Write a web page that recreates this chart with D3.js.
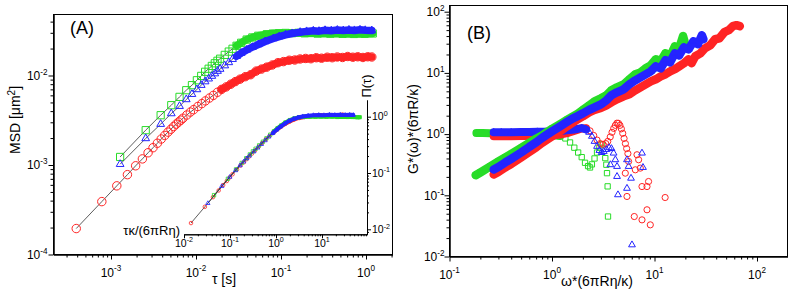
<!DOCTYPE html>
<html>
<head>
<meta charset="utf-8">
<script src="https://cdn.jsdelivr.net/npm/d3@7"></script>
<style>
  body { margin: 0; background: #fff; }
  svg text { font-family: "Liberation Sans", Arial, sans-serif; fill: #000; }
</style>
</head>
<body>
<svg id="chart" width="789" height="294"></svg>
<script>
// ---------------- data, panel A: MSD vs tau ----------------
const msdRed = [[3.9e-4,1.95e-4],[7.8e-4,3.9e-4],[1.17e-3,5.85e-4],[1.56e-3,7.8e-4],[1.95e-3,9.8e-4],[2.34e-3,1.17e-3],
  [2.73e-3,1.37e-3],[3.12e-3,1.56e-3],[3.51e-3,1.75e-3],[3.9e-3,1.95e-3],[4.29e-3,2.14e-3],[4.68e-3,2.33e-3],[5.07e-3,2.51e-3],
  [5.46e-3,2.69e-3],[5.85e-3,2.86e-3],[6.24e-3,3.02e-3],[6.63e-3,3.17e-3],[7.02e-3,3.33e-3],[7.8e-3,3.62e-3],[8.58e-3,3.9e-3],
  [9.36e-3,4.15e-3],[0.0105,4.5e-3],[0.0117,4.85e-3],[0.0129,5.2e-3],[0.0144,5.6e-3],[0.016,6.0e-3],[0.0179,6.5e-3],[0.02,7.0e-3],
  [0.0226,7.45e-3],[0.0257,8.0e-3],[0.029,8.55e-3],[0.033,9.1e-3],[0.038,9.7e-3],[0.044,0.0102],[0.051,0.0112],[0.059,0.0118],
  [0.068,0.0124],[0.079,0.0131],[0.092,0.0139],[0.107,0.0143],[0.125,0.0148],[0.145,0.0149],[0.168,0.0153],[0.195,0.0155],
  [0.225,0.0154],[0.26,0.0158],[0.3,0.0156],[0.35,0.016],[0.4,0.0158],[0.46,0.0161],[0.53,0.0159],[0.61,0.0163],[0.7,0.016],
  [0.8,0.0162],[0.92,0.0159],[1.05,0.0162],[1.17,0.0161]];
const msdGreen = [[1.28e-3,1.23e-3],[2.56e-3,2.45e-3],[3.84e-3,3.6e-3],[5.12e-3,4.66e-3],[6.4e-3,5.77e-3],[7.68e-3,6.85e-3],
  [8.96e-3,7.8e-3],[0.01024,8.85e-3],[0.01152,9.9e-3],[0.0128,0.011],[0.01408,0.0119],[0.01536,0.0128],[0.01664,0.0137],
  [0.0179,0.0146],[0.0192,0.0154],[0.0218,0.017],[0.0243,0.0185],[0.0269,0.0199],[0.03,0.0215],[0.034,0.0232],[0.0395,0.0252],
  [0.046,0.0266],[0.054,0.0278],[0.068,0.0289],[0.08,0.0294],[0.095,0.0297],[0.113,0.0299],[0.135,0.0297],[0.16,0.03],
  [0.19,0.0296],[0.23,0.0298],[0.27,0.0294],[0.32,0.0297],[0.38,0.0293],[0.45,0.0296],[0.53,0.0292],[0.62,0.0295],
  [0.72,0.0291],[0.84,0.0294],[0.97,0.0292],[1.2,0.0295]];
const msdBlue = [[1.28e-3,1.02e-3],[2.56e-3,1.98e-3],[3.84e-3,2.86e-3],[5.12e-3,3.76e-3],[6.4e-3,4.54e-3],[7.68e-3,5.4e-3],
  [8.96e-3,6.18e-3],[0.01024,6.98e-3],[0.01152,7.8e-3],[0.0128,8.55e-3],[0.01408,9.2e-3],[0.01536,9.85e-3],[0.01664,0.0105],
  [0.0179,0.0112],[0.0192,0.0118],[0.0218,0.0129],[0.0243,0.014],[0.0269,0.0152],[0.03,0.0164],[0.034,0.0178],[0.0395,0.0193],
  [0.046,0.0207],[0.054,0.0222],[0.065,0.024],[0.0812,0.0259],[0.095,0.0272],[0.113,0.0285],[0.135,0.0295],[0.168,0.0305],
  [0.2,0.0311],[0.24,0.0316],[0.28,0.0313],[0.33,0.032],[0.39,0.0317],[0.46,0.0322],[0.54,0.0318],[0.63,0.0323],
  [0.73,0.0319],[0.85,0.0324],[0.98,0.032],[1.17,0.0318]];

// inset: Pi(tau) vs tau*kappa/(6 pi R eta)
const piRed = [[0.0142,0.0129],[0.0284,0.0251],[0.0426,0.0372],[0.0568,0.049],[0.071,0.061],[0.0852,0.072],[0.0994,0.084],
  [0.1136,0.095],[0.142,0.116],[0.17,0.136],[0.2,0.155],[0.23,0.176],[0.26,0.196],[0.3,0.221],[0.35,0.252],[0.42,0.294],
  [0.5,0.341],[0.6,0.396],[0.72,0.455],[0.87,0.522],[1.05,0.592],[1.3,0.672],[1.6,0.75],[2.0,0.826],[2.5,0.895],[3.2,0.95],
  [4.2,0.99],[5.5,1.02],[7.2,1.04],[9.5,1.06],[12.5,1.05],[16.5,1.07],[21.5,1.06],[28,1.08],[36,1.06],[43,1.07]];
const piGreen = [[0.045,0.0405],[0.09,0.079],[0.135,0.116],[0.18,0.151],[0.225,0.183],[0.27,0.214],[0.315,0.243],[0.36,0.27],
  [0.43,0.31],[0.52,0.36],[0.62,0.414],[0.75,0.48],[0.9,0.55],[1.08,0.625],[1.3,0.7],[1.6,0.79],[2.0,0.87],[2.5,0.935],
  [3.2,0.98],[4.2,1.0],[5.5,1.01],[7.2,1.0],[9.5,1.01],[12.5,1.0],[16.5,1.01],[21.5,0.99],[28,1.0],[36,0.99],[46,0.99],
  [58,0.98],[66,0.98]];
const piBlue = [[0.033,0.029],[0.066,0.058],[0.099,0.085],[0.132,0.111],[0.165,0.136],[0.198,0.159],[0.231,0.181],[0.264,0.202],
  [0.33,0.24],[0.4,0.28],[0.48,0.324],[0.58,0.378],[0.7,0.44],[0.85,0.51],[1.03,0.585],[1.25,0.665],[1.55,0.755],[1.9,0.835],
  [2.4,0.91],[3.0,0.965],[3.8,1.01],[5.0,1.04],[6.5,1.06],[8.5,1.07],[11,1.06],[14.5,1.08],[19,1.07],[25,1.08],[32,1.07],
  [40,1.08],[48,1.07]];

// ---------------- data, panel B: G* vs omega ----------------
const riseGreen = [[0.18,0.213],[0.2,0.236],[0.25,0.296],[0.3,0.357],[0.35,0.416],[0.4,0.474],[0.5,0.594],[0.6,0.718],
  [0.7,0.84],[0.8,0.95],[0.9,1.09],[1.0,1.22],[1.2,1.46],[1.4,1.71],[1.6,1.95],[1.8,2.18],[2.0,2.49],[2.3,2.95],[2.6,3.43],
  [3.0,3.84],[3.4,4.3],[3.8,5.2],[4.3,5.8],[5.0,6.5],[5.7,7.85],[6.5,9.5],[7.3,10.2],[8.2,11.9],[9.2,13.3],[10.3,16.7],
  [11.5,15.5],[12.8,21],[14.2,18.7],[15.8,27.2],[17.4,25.2],[19.0,40],[19.6,33]];
const riseBlue = [[0.27,0.264],[0.3,0.29],[0.35,0.344],[0.4,0.395],[0.5,0.501],[0.6,0.618],[0.7,0.731],[0.8,0.867],[0.9,0.99],
  [1.0,1.11],[1.2,1.34],[1.4,1.58],[1.6,1.81],[1.8,1.99],[2.0,2.18],[2.3,2.49],[2.6,2.74],[3.0,3.06],[3.4,3.56],[3.8,4.3],
  [4.3,4.81],[5.0,5.39],[5.7,6.5],[6.5,7.56],[7.3,8.47],[8.2,9.48],[9.2,10.6],[10.3,12.8],[11.5,11.9],[12.8,16.1],[14.2,14.9],
  [15.8,20.9],[17.4,19.4],[19.4,26.2],[21.5,24.3],[24,32.9],[26.5,29.4],[29,41.2],[30,35.5]];
const riseRed = [[0.27,0.219],[0.3,0.241],[0.35,0.285],[0.4,0.325],[0.5,0.416],[0.6,0.512],[0.7,0.606],[0.8,0.718],[0.9,0.819],
  [1.0,0.917],[1.2,1.11],[1.4,1.34],[1.6,1.55],[1.8,1.77],[2.0,1.95],[2.3,2.27],[2.6,2.49],[3.0,2.68],[3.4,2.95],[3.8,3.3],
  [4.3,3.7],[5.0,4.14],[5.7,4.47],[6.5,5.19],[7.3,5.81],[8.2,6.5],[9.2,7.28],[10.3,7.86],[11.5,8.8],[12.8,9.5],[14.2,10.6],
  [15.8,11.5],[17.4,12.8],[19.4,14.4],[21.5,16.7],[23,14.4],[25,18.7],[28,20.9],[31,25.2],[35,28.3],[39,35.5],[43,36.8],
  [48,46.2],[53,49.8],[58,58],[63,60.2],[68,58]];

const fallGreen = [[0.183,1.04],[0.21,1.04],[0.25,1.035],[0.3,1.03],[0.36,1.02],[0.43,1.01],[0.52,1.0],[0.62,0.99],[0.75,0.98],
  [0.9,0.97],[1.05,0.96],[1.2,0.93],[1.35,0.85],[1.5,0.73],[1.65,0.6],[1.8,0.5],[1.95,0.42],[2.1,0.34],[2.25,0.3],[2.35,0.285],
  [2.45,0.32],[2.6,0.4],[2.75,0.5],[2.9,0.6],[3.05,0.68]];
const fallGreenLoose = [[3.31,0.405],[3.39,0.316],[3.44,0.23],[3.49,0.14],[3.52,0.045]];
const fallBlue = [[0.27,1.07],[0.32,1.07],[0.4,1.07],[0.5,1.08],[0.6,1.085],[0.72,1.09],[0.86,1.09],[1.0,1.1],[1.2,1.12],
  [1.4,1.15],[1.65,1.19],[1.95,1.25],[2.15,1.19],[2.3,1.07],[2.45,0.92],[2.6,0.76],[2.75,0.63],[2.9,0.54],[3.05,0.5],
  [3.2,0.52],[3.4,0.56],[3.6,0.6],[3.8,0.58]];
const fallBlueLoose = [[3.71,0.316],[3.99,0.489],[4.15,0.381],[4.31,0.296],[4.31,0.203],[4.4,0.102],[5.39,0.381],[5.59,0.296],
  [5.9,0.19],[5.39,0.13],[7.55,0.489],[7.72,0.285],[6.03,0.0155]];
const fallRed = [[0.27,0.92],[0.32,0.92],[0.4,0.925],[0.5,0.93],[0.6,0.93],[0.72,0.935],[0.86,0.94],[1.0,0.95],[1.2,0.98],
  [1.45,1.05],[1.7,1.15],[1.95,1.24],[2.15,1.25],[2.35,1.13],[2.55,0.95],[2.75,0.8],[2.95,0.7],[3.15,0.68],[3.35,0.7],
  [3.5,0.76],[3.7,0.9],[3.85,1.07],[4.0,1.24],[4.15,1.39],[4.3,1.51],[4.45,1.5],[4.6,1.39],[4.75,1.22],[4.9,1.03],
  [5.05,0.85],[5.2,0.7],[5.35,0.58],[5.5,0.48]];
const fallRedLoose = [[5.19,0.23],[5.59,0.357],[6.5,0.261],[6.75,0.46],[7.0,0.381],[7.27,0.278],[8.75,0.168],[8.45,0.139],
  [7.55,0.139],[5.39,0.0957],[12.7,0.092],[8.45,0.058],[6.35,0.045],[7.55,0.0397],[9.1,0.0329]];

const RED = "#ff2424", GREEN = "#28dc28", BLUE = "#2424ff";

const svg = d3.select("#chart");

// log scale fixed by two decades, then stretched to the frame edges
function frameScale(d0, d1, r0, r1, e0, e1) {
  const s = d3.scaleLog().domain([d0, d1]).range([r0, r1]);
  return s.domain([s.invert(e0), s.invert(e1)]).range([e0, e1]);
}

function logTicks(scale) {
  const [a, b] = scale.domain();
  const major = [], minor = [];
  for (let e = Math.floor(Math.log10(a)); e <= Math.ceil(Math.log10(b)); e++) {
    for (let k = 1; k < 10; k++) {
      const v = k * Math.pow(10, e);
      if (v < a * 0.999 || v > b * 1.001) continue;
      (k === 1 ? major : minor).push(v);
    }
  }
  return {major, minor};
}

function drawAxis(scale, orient, pos, fs, big, small, lab) {
  const t = logTicks(scale);
  const gen = orient === "bottom" ? d3.axisBottom : orient === "left" ? d3.axisLeft : d3.axisRight;
  const tr = orient === "bottom" ? `translate(0,${pos})` : `translate(${pos},0)`;
  svg.append("g").attr("transform", tr)
    .call(gen(scale).tickValues(t.minor).tickSize(small).tickSizeOuter(0).tickFormat(""));
  svg.append("g").attr("transform", tr)
    .call(gen(scale).tickValues(t.major).tickSize(big).tickSizeOuter(0).tickFormat(""));
  svg.selectAll(".domain").attr("stroke", "#000");
  t.major.forEach(v => {
    const e = Math.round(Math.log10(v));
    let txt;
    if (orient === "bottom") {
      txt = svg.append("text").attr("x", scale(v)).attr("y", pos + lab).attr("text-anchor", "middle");
    } else if (orient === "left") {
      txt = svg.append("text").attr("x", pos - lab).attr("y", scale(v) + fs * 0.36).attr("text-anchor", "end");
    } else {
      txt = svg.append("text").attr("x", pos + lab).attr("y", scale(v) + fs * 0.36).attr("text-anchor", "start");
    }
    txt.attr("font-size", fs);
    txt.append("tspan").text("10");
    txt.append("tspan").attr("dy", -fs * 0.42).attr("font-size", fs * 0.68).text(String(e));
  });
}

function drawSeries(x, y, data, o) {
  const g = svg.append("g");
  const line = d3.line().x(d => x(d[0])).y(d => y(d[1]));
  if (o.thin) {
    g.append("path").datum(data).attr("d", line)
      .attr("fill", "none").attr("stroke", "#333").attr("stroke-width", 0.8);
  }
  if (o.band) {
    const dense = data.filter(d => d[0] >= o.bandFrom && d[0] <= (o.bandTo || Infinity));
    g.append("path").datum(dense).attr("d", line)
      .attr("fill", "none").attr("stroke", o.color).attr("stroke-width", o.band)
      .attr("stroke-linejoin", "round").attr("stroke-linecap", "round");
  }
  const sym = d3.symbol().type(o.shape).size(o.size);
  g.selectAll(null).data(data).enter().append("path")
    .attr("transform", d => `translate(${x(d[0])},${y(d[1])})`)
    .attr("d", sym)
    .attr("fill", "none")
    .attr("stroke", o.color)
    .attr("stroke-width", o.sw || 1);
}

// ================= panel A =================
const xA = frameScale(1e-3, 1, 111, 366, 53.5, 392.5);
const yA = frameScale(1e-4, 1e-2, 254.5, 75.5, 254.5, 14.5);

svg.append("rect").attr("x", 53.5).attr("y", 14.5).attr("width", 339).attr("height", 240)
  .attr("fill", "none").attr("stroke", "#000");
drawAxis(yA, "left", 53.5, 12, 5, 3, 6);
drawAxis(xA, "bottom", 254.5, 12, 5, 3, 22);

drawSeries(xA, yA, msdRed, {color: RED, shape: d3.symbolCircle, size: 56, thin: true, band: 7.5, bandFrom: 0.02});
drawSeries(xA, yA, msdGreen, {color: GREEN, shape: d3.symbolSquare, size: 52, thin: true, band: 7.5, bandFrom: 0.03});
drawSeries(xA, yA, msdBlue, {color: BLUE, shape: d3.symbolTriangle, size: 26, thin: true, band: 7.5, bandFrom: 0.03});

// inset
const xI = frameScale(1e-2, 10, 184, 322, 184, 367);
const yI = frameScale(1e-2, 1, 229.3, 116.7, 234.3, 100);
drawAxis(xI, "bottom", 234.3, 10.5, 4, 2, 12.5);
drawAxis(yI, "right", 367, 10.5, 4, 2, 5);

drawSeries(xI, yI, piRed, {color: RED, shape: d3.symbolCircle, size: 10, thin: true, band: 4, bandFrom: 0.8, sw: 0.8});
drawSeries(xI, yI, piGreen, {color: GREEN, shape: d3.symbolSquare, size: 11, thin: true, band: 4, bandFrom: 0.8, sw: 0.8});
drawSeries(xI, yI, piBlue, {color: BLUE, shape: d3.symbolTriangle, size: 8, thin: true, band: 4, bandFrom: 0.8, sw: 0.8});

svg.append("text").attr("x", 180).attr("y", 235).attr("text-anchor", "end").attr("font-size", 13)
  .text("τκ/(6πRη)");
svg.append("text").attr("transform", "translate(371,86) rotate(-90)").attr("text-anchor", "middle")
  .attr("font-size", 13).text("Π(τ)");

svg.append("text").attr("x", 70).attr("y", 34).attr("font-size", 18).text("(A)");
const msdLab = svg.append("text").attr("transform", "translate(19.5,120) rotate(-90)")
  .attr("text-anchor", "middle").attr("font-size", 14);
msdLab.append("tspan").text("MSD [μm");
msdLab.append("tspan").attr("dy", -5).attr("font-size", 10).text("2");
msdLab.append("tspan").attr("dy", 5).text("]");
svg.append("text").attr("x", 224).attr("y", 284).attr("text-anchor", "middle").attr("font-size", 14)
  .text("τ [s]");

// ================= panel B =================
const xB = frameScale(0.1, 100, 449.5, 757, 449.5, 787.5);
const yB = frameScale(0.01, 100, 256.5, 11.7, 256.5, 5.5);

svg.append("rect").attr("x", 449.5).attr("y", 5.5).attr("width", 338).attr("height", 251)
  .attr("fill", "none").attr("stroke", "#000");
drawAxis(yB, "left", 449.5, 12, 5, 3, 5);
drawAxis(xB, "bottom", 256.5, 12, 5, 3, 22);

const sq = {shape: d3.symbolSquare, size: 28};
const ci = {shape: d3.symbolCircle, size: 30};
const tr = {shape: d3.symbolTriangle, size: 20};

drawSeries(xB, yB, fallGreen, {...sq, color: GREEN, band: 8, bandFrom: 0, bandTo: 1.25});
drawSeries(xB, yB, fallGreenLoose, {...sq, color: GREEN});
drawSeries(xB, yB, fallRed, {...ci, color: RED, band: 8, bandFrom: 0, bandTo: 2.2});
drawSeries(xB, yB, fallRedLoose, {...ci, color: RED});
drawSeries(xB, yB, fallBlue, {...tr, color: BLUE, band: 8, bandFrom: 0, bandTo: 2.2});
drawSeries(xB, yB, fallBlueLoose, {...tr, color: BLUE});

drawSeries(xB, yB, riseRed, {...ci, color: RED, band: 8.5, bandFrom: 0});
drawSeries(xB, yB, riseGreen, {...sq, color: GREEN, band: 8.5, bandFrom: 0});
drawSeries(xB, yB, riseBlue, {...tr, color: BLUE, band: 8.5, bandFrom: 0});

svg.append("text").attr("x", 467).attr("y", 39).attr("font-size", 18).text("(B)");
svg.append("text").attr("transform", "translate(418,129) rotate(-90)").attr("text-anchor", "middle")
  .attr("font-size", 14).text("G*(ω)*(6πR/κ)");
svg.append("text").attr("x", 597).attr("y", 286).attr("text-anchor", "middle").attr("font-size", 14)
  .text("ω*(6πRη/κ)");
</script>
</body>
</html>
